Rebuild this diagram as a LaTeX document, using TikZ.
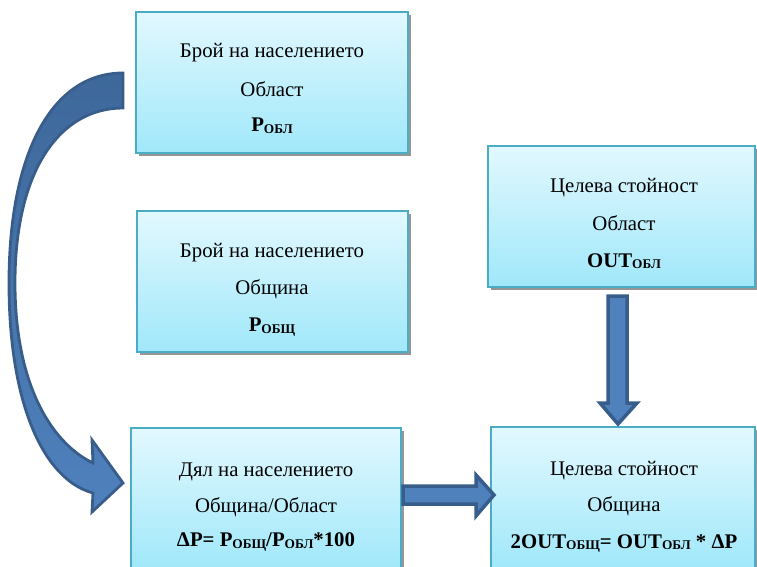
\documentclass[tikz,border=0pt]{standalone}
\usepackage{fontspec}
\setmainfont{Liberation Serif}
\usetikzlibrary{shadows,calc}
\definecolor{boxborder}{RGB}{75,172,198}
\definecolor{boxtop}{RGB}{226,248,254}
\definecolor{boxbot}{RGB}{160,232,250}
\definecolor{arrfill}{RGB}{79,129,189}
\definecolor{arrdark}{RGB}{56,93,138}
\definecolor{arrtop}{RGB}{62,104,154}
\definecolor{shadowgray}{RGB}{150,150,150}
\newcommand{\subtxt}[1]{\raisebox{-1.5pt}{\fontsize{13.3}{13.3}\selectfont\bfseries #1}}
\begin{document}
\begin{tikzpicture}[x=1pt,y=1pt,
  infobox/.style={draw=boxborder, line width=2pt, top color=boxtop, bottom color=boxbot,
    minimum width=#1, minimum height=141pt, inner sep=0pt,
    drop shadow={shadow xshift=3pt, shadow yshift=-3pt, fill=shadowgray, opacity=1}},
  txt/.style={font=\fontsize{20.8}{21}\selectfont, anchor=base, inner sep=0pt},
  btxt/.style={font=\fontsize{20.8}{21}\selectfont\bfseries, anchor=base, inner sep=0pt},
  bigarrow/.style={draw=arrdark, line width=3.5pt, fill=arrfill, line join=miter}]
\useasboundingbox (0,0) rectangle (757,566);
\clip (0,0) rectangle (757,566);
% boxes
\node[infobox=272pt] (b1) at (272,483.5) {};
\node[infobox=271pt] (b2) at (272.5,284.5) {};
\node[infobox=267pt] (b3) at (621.5,349.5) {};
\node[infobox=270pt] (b4) at (266,67.5) {};
\node[infobox=264pt] (b5) at (623,68.5) {};
% texts
\node[txt] (t11) at (272,508) {Брой на населението};
\node[txt] (t12) at (272,469) {Област};
\node[btxt] (t13) at (272,434) {P\subtxt{ОБЛ}};
\node[txt] (t21) at (272,308.7) {Брой на населението};
\node[txt] (t22) at (272,271.7) {Община};
\node[btxt] (t23) at (272,234.3) {P\subtxt{ОБЩ}};
\node[txt] (t31) at (624,373.3) {Целева стойност};
\node[txt] (t32) at (624,336) {Област};
\node[btxt] (t33) at (624,298.7) {OUT\subtxt{ОБЛ}};
\node[txt] (t41) at (266,90) {Дял на населението};
\node[txt] (t42) at (266,53.3) {Община/Област};
\node[btxt] (t43) at (266,19.3) {ΔP= P\subtxt{ОБЩ}/P\subtxt{ОБЛ}*100};
\node[txt] (t51) at (624,91) {Целева стойност};
\node[txt] (t52) at (624,54.3) {Община};
\node[btxt] (t53) at (624,17.7) {2OUT\subtxt{ОБЩ}= OUT\subtxt{ОБЛ} * ΔP};
% curved arrow from b1 to b4
\path[draw=arrdark, line width=2.8pt, top color=arrtop, bottom color=arrfill, line join=miter]
  (123,493) .. controls (52,493) and (9,413) .. (9,283)
  .. controls (9,159) and (45,86) .. (93,73)
  -- (92,54) -- (123,83) -- (92,126) -- (93,103)
  .. controls (55,121) and (15,176) .. (15,283)
  .. controls (15,396) and (60,458) .. (123,458) -- cycle;
% straight arrow b4 -> b5
\path[bigarrow] (403,80) -- (476,80) -- (476,91) -- (494,71) -- (476,50) -- (476,62) -- (403,62) -- cycle;
% straight arrow b3 -> b5
\path[bigarrow] (608,270) -- (627,270) -- (627,163) -- (637,163) -- (618,142) -- (600,163) -- (608,163) -- cycle;
\end{tikzpicture}
\end{document}
